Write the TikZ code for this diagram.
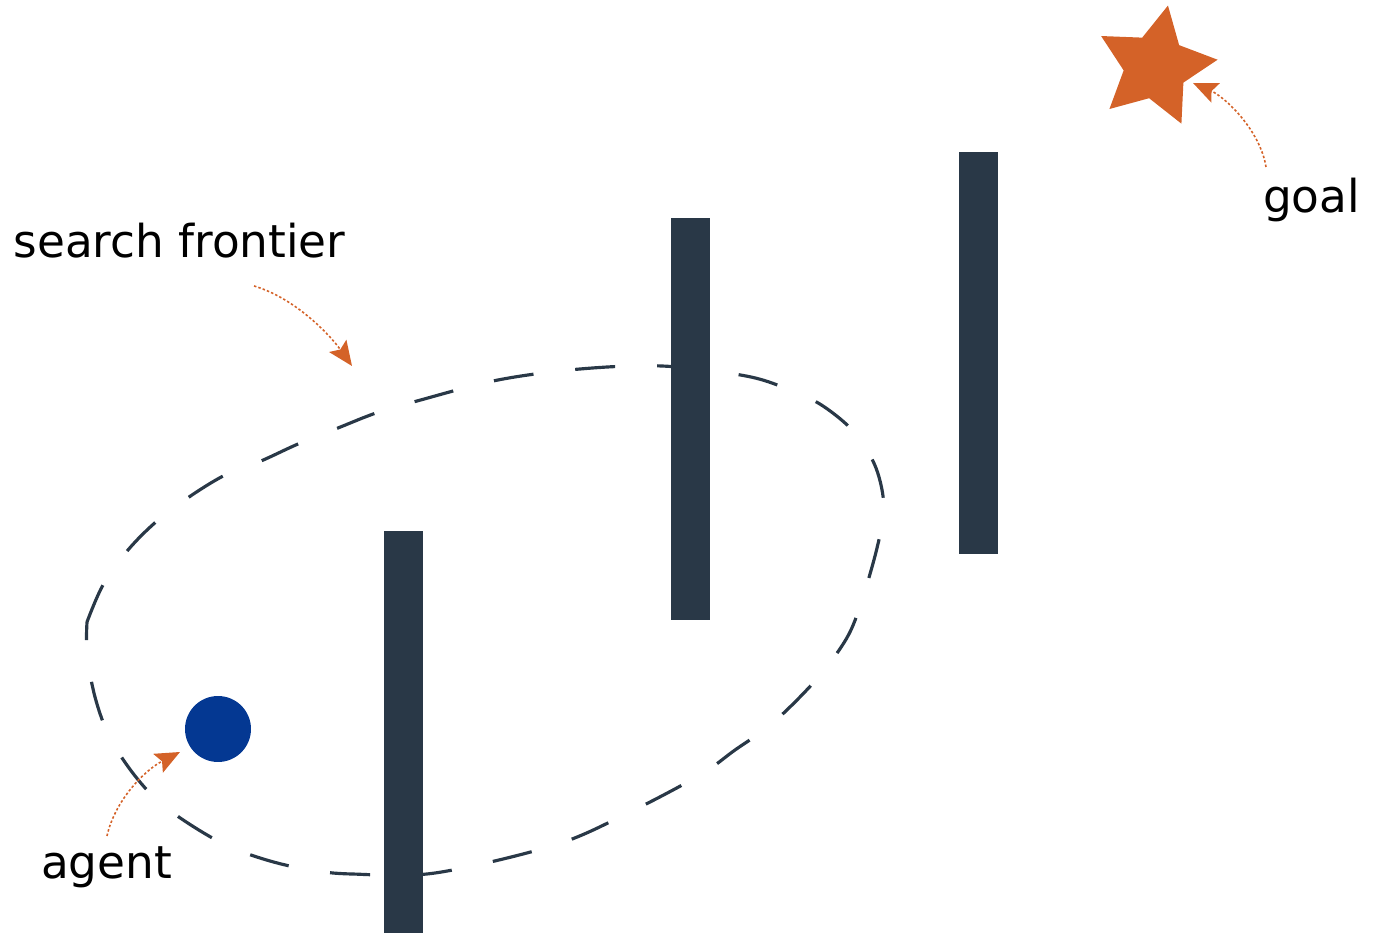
\documentclass[tikz,border=0pt]{standalone}
\usepackage{fontspec}
\setmainfont{DejaVu Sans}
\usetikzlibrary{shapes.geometric,arrows.meta}
\definecolor{barcol}{RGB}{41,56,71}
\definecolor{agentblue}{RGB}{4,56,146}
\definecolor{accent}{RGB}{212,98,40}
\begin{document}
\begin{tikzpicture}[x=0.02cm,y=-0.02cm,
  wall/.style={fill=barcol, draw=none, minimum width=0.78cm, minimum height=8.04cm, inner sep=0pt, outer sep=0pt, anchor=north west},
  lbl/.style={font=\fontsize{25.8pt}{30pt}\selectfont, anchor=base, inner sep=0pt},
  pointer/.style={accent, line width=0.9pt, dash pattern=on 1.4pt off 1.2pt, -{Stealth[length=14pt,width=12pt,inset=2.5pt]}},
  frontier/.style={barcol, line width=1.8pt, dash pattern=on 22.8pt off 23.9pt, line join=round}
]
\useasboundingbox (0,0) rectangle (1373,935);
% search frontier
\draw[frontier] plot[smooth, tension=0.55] coordinates {
 (87,622) (103,585) (128,550) (157,521) (192,495) (227,474) (261,461) (298,444)
 (338,428) (376,413) (417,401) (498,380) (580,369) (662,366) (746,376) (790,390) (823,406)
 (855,433) (876,468) (884,508) (877,548) (863,597) (849,634) (826,668) (799,698)
 (768,727) (735,750) (700,775) (630,812) (555,845) (435,873) (352,874) (310,870)
 (270,861) (230,847) (194,827) (159,802) (132,772) (109,736) (95,697) (87,654) (87,622)};
% walls
\node[wall] (wallA) at (384,531) {};
\node[wall] (wallB) at (671,218) {};
\node[wall] (wallC) at (959,152) {};
% agent and goal
\node[circle, fill=agentblue, minimum size=1.32cm, inner sep=0pt] (agent) at (218,729) {};
\node[star, star points=5, star point ratio=1.95, minimum size=2.5cm, inner sep=0pt, fill=accent, rotate=-11.5] (goalstar) at (1155.5,66.8) {};
% labels
\node[lbl] (sflabel) at (179.5,258) {search frontier};
\node[lbl] (goallabel) at (1311.5,213) {goal};
\node[lbl] (agentlabel) at (106.5,878) {agent};
% pointer ends
\coordinate (sfA) at (254,286);
\coordinate (sfB) at (352,366);
\coordinate (gA) at (1266,167);
\coordinate (gB) at (1193,83);
\coordinate (aA) at (107,836);
\coordinate (aB) at (180,752);
\draw[pointer] (sfA) .. controls (295,298) and (330,335) .. (sfB);
\draw[pointer] (gA) .. controls (1260,130) and (1225,97) .. (gB);
\draw[pointer] (aA) .. controls (115,800) and (145,770) .. (aB);
\end{tikzpicture}
\end{document}
